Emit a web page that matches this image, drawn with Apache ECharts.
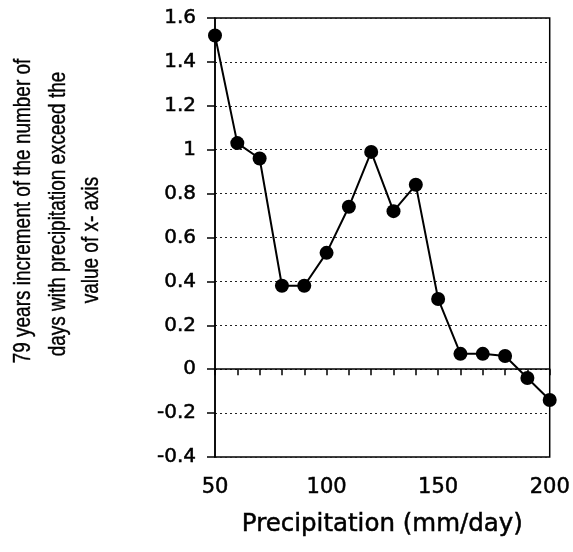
<!DOCTYPE html>
<html>
<head>
<meta charset="utf-8">
<script src="https://cdn.jsdelivr.net/npm/echarts@6/dist/echarts.min.js"></script>
<style>
  html, body { margin: 0; padding: 0; background: #fff; }
  #main { width: 573px; height: 552px; }
</style>
</head>
<body>
<div id="main"></div>
<script type="text/javascript">
    // precipitation threshold (mm/day) and 79-year increment
    var precip = [50, 60, 70, 80, 90, 100, 110, 120, 130, 140, 150, 160, 170, 180, 190, 200];
    var increment = [1.52, 1.03, 0.96, 0.38, 0.38, 0.53, 0.74, 0.99, 0.72, 0.84, 0.32, 0.07, 0.07, 0.06, -0.04, -0.14];
    var yNameLines = ['79 years increment of the number of', 'days with precipitation exceed the', 'value of x- axis'];

    var font = 'DejaVu Sans';
    // scanned text looks heavy, a thin outline thickens it a bit
    var heavy = { textBorderColor: '#000', textBorderWidth: 0.5 };
    var myChart = echarts.init(document.getElementById('main'));

    var points = precip.map(function (p, i) { return [p, increment[i]]; });

    // the scan is squeezed vertically, so the rotated title is tall and narrow
    function nameLine(txt, x, y) {
        return {
            type: 'text', x: x, y: y, rotation: Math.PI / 2,
            scaleX: 0.79, scaleY: 1,
            style: {
                text: txt, font: '24px "Liberation Sans"', fill: '#000',
                stroke: '#000', lineWidth: 0.4,
                align: 'center', verticalAlign: 'middle'
            }
        };
    }

    var option = {
        animation: false,
        backgroundColor: '#fff',
        grid: {
            left: 215, right: 23, top: 18, bottom: 95,
            show: true, borderColor: '#000', borderWidth: 1.5
        },
        xAxis: [
            {
                // axis drawn along y = 0 with small ticks
                type: 'value', min: 50, max: 200, interval: 10,
                axisLine: { show: true, onZero: true, lineStyle: { color: '#000', width: 1.5 } },
                axisTick: { show: true, length: 6, lineStyle: { color: '#000', width: 1.5 } },
                axisLabel: { show: false },
                splitLine: { show: false }
            },
            {
                type: 'value', position: 'bottom', min: 50, max: 200, interval: 50,
                axisLine: { show: false, onZero: false },
                axisTick: { show: false },
                splitLine: { show: false },
                axisLabel: Object.assign({ color: '#000', fontFamily: font, fontSize: 21, margin: 20 }, heavy),
                name: 'Precipitation (mm/day)',
                nameLocation: 'middle',
                nameGap: 55,
                nameTextStyle: Object.assign({ color: '#000', fontFamily: font, fontSize: 24.5 }, heavy)
            }
        ],
        yAxis: {
            type: 'value', min: -0.4, max: 1.6, interval: 0.2,
            axisLine: { show: true, lineStyle: { color: '#000', width: 1.5 } },
            axisTick: { show: true, length: 8, lineStyle: { color: '#000', width: 1.5 } },
            axisLabel: Object.assign({ color: '#000', fontFamily: font, fontSize: 20, margin: 19 }, heavy),
            splitLine: { show: true, lineStyle: { color: '#222', width: 1, type: [2, 3] } }
        },
        graphic: [
            nameLine(yNameLines[0], 23, 211),
            nameLine(yNameLines[1], 58, 214),
            nameLine(yNameLines[2], 91, 240)
        ],
        series: [
            {
                type: 'line',
                xAxisIndex: 0,
                data: points,
                symbol: 'circle',
                symbolSize: 14,
                itemStyle: { color: '#000' },
                lineStyle: { color: '#000', width: 2 },
                z: 5
            }
        ]
    };
    myChart.setOption(option);
</script>
</body>
</html>
